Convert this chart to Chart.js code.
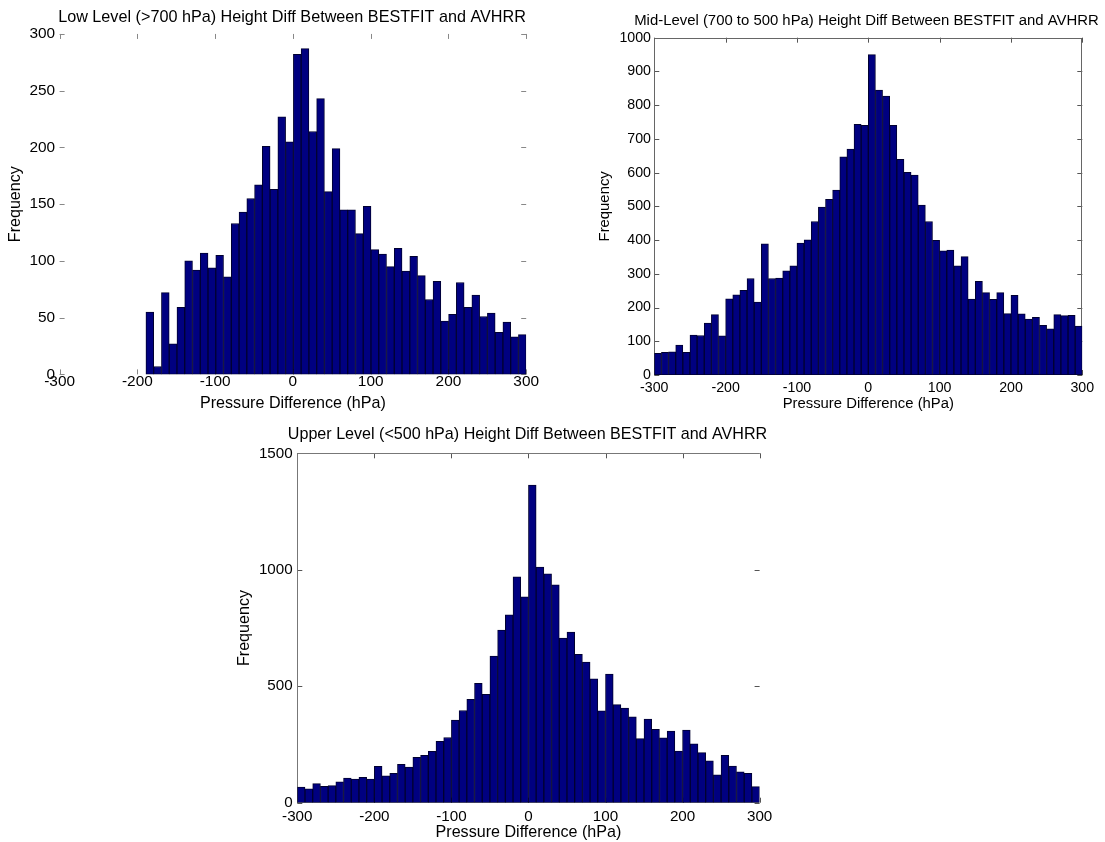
<!DOCTYPE html>
<html>
<head>
<meta charset="utf-8">
<script src="https://cdn.jsdelivr.net/npm/chart.js@4.4.1/dist/chart.umd.min.js"></script>
<style>
  html, body { margin: 0; background: #fff; overflow: hidden; }
  .panel { position: absolute; }
</style>
</head>
<body>
<div class="panel" style="left:0;top:0;width:584px;height:420px"><canvas id="lowChart"></canvas></div>
<div class="panel" style="left:590px;top:0;width:553px;height:420px"><canvas id="midChart"></canvas></div>
<div class="panel" style="left:230px;top:420px;width:595px;height:422px"><canvas id="upperChart"></canvas></div>
<script>
const xTicks = [-300, -200, -100, 0, 100, 200, 300];

// low level (>700 hPa): 49 bins between about -189 and 300 hPa
const lowRange = [-189, 300];
const lowCounts = [55, 7, 72, 27, 59, 100, 92, 107, 94, 105, 86, 133, 143, 155, 167, 201, 163, 227, 205, 282,
  287, 214, 243, 161, 199, 145, 145, 124, 148, 110, 106, 95, 111, 91, 104, 87, 66, 82, 47, 53,
  81, 59, 70, 51, 54, 37, 46, 33, 35];
const lowYTicks = [0, 50, 100, 150, 200, 250, 300];

// mid level (700 to 500 hPa): 60 bins of 10 hPa
const midRange = [-300, 300];
const midCounts = [64, 67, 69, 89, 67, 118, 117, 154, 179, 116, 226, 238, 251, 286, 216, 389, 286, 287, 309, 324,
  391, 401, 455, 498, 521, 548, 647, 670, 743, 740, 950, 845, 827, 740, 639, 601, 593, 504, 455, 399,
  368, 370, 324, 351, 225, 278, 244, 224, 244, 182, 236, 181, 166, 171, 147, 137, 179, 176, 177, 145];
const midYTicks = [0, 100, 200, 300, 400, 500, 600, 700, 800, 900, 1000];

// upper level (<500 hPa): 60 bins of 10 hPa
const upperRange = [-300, 300];
const upperCounts = [67, 60, 82, 70, 73, 90, 106, 101, 109, 101, 156, 115, 126, 165, 153, 195, 203, 221, 264, 280,
  355, 396, 444, 513, 465, 630, 741, 807, 970, 884, 1364, 1012, 983, 935, 707, 733, 637, 604, 532, 394,
  552, 421, 406, 369, 275, 359, 315, 278, 308, 222, 312, 253, 215, 180, 120, 203, 157, 133, 126, 69];
const upperYTicks = [0, 500, 1000, 1500];

const FONT = '"Liberation Sans", Arial, Helvetica, sans-serif';

// inward MATLAB-style tick marks on all four sides, plus whatever frame lines are visible
const axesBox = {
  id: 'axesBox',
  beforeDatasetsDraw(chart, args, opts) {
    const { ctx, chartArea: a, scales: { x, y } } = chart;
    const len = 5;
    ctx.save();
    ctx.lineWidth = 1;
    ctx.strokeStyle = opts.tickColor;
    ctx.beginPath();
    x.ticks.forEach(t => {
      const px = Math.round(x.getPixelForValue(t.value)) + 0.5;
      ctx.moveTo(px, a.bottom); ctx.lineTo(px, a.bottom - len);
      ctx.moveTo(px, a.top); ctx.lineTo(px, a.top + len);
    });
    y.ticks.forEach(t => {
      const py = Math.round(y.getPixelForValue(t.value)) + 0.5;
      ctx.moveTo(a.left, py); ctx.lineTo(a.left + len, py);
      ctx.moveTo(a.right, py); ctx.lineTo(a.right - len, py);
    });
    ctx.stroke();
    ctx.strokeStyle = opts.frameColor;
    ctx.beginPath();
    const l = Math.round(a.left) + 0.5, r = Math.round(a.right) - 0.5;
    const t = Math.round(a.top) + 0.5, b = Math.round(a.bottom) - 0.5;
    opts.sides.forEach(s => {
      if (s === 'top') { ctx.moveTo(l, t); ctx.lineTo(r, t); }
      if (s === 'bottom') { ctx.moveTo(l, b); ctx.lineTo(r, b); }
      if (s === 'left') { ctx.moveTo(l, t); ctx.lineTo(l, b); }
      if (s === 'right') { ctx.moveTo(r, t); ctx.lineTo(r, b); }
    });
    ctx.stroke();
    ctx.restore();
  }
};

function binCenters(range, n) {
  const w = (range[1] - range[0]) / n;
  const out = [];
  for (let i = 0; i < n; i++) out.push(range[0] + w * (i + 0.5));
  return out;
}

function makeHist(id, title, range, counts, yTicks, box) {
  const centers = binCenters(range, counts.length);
  const pts = counts.map((c, i) => ({ x: centers[i], y: c }));
  const f = box.fonts;
  new Chart(document.getElementById(id), {
    type: 'bar',
    data: {
      datasets: [{
        data: pts,
        backgroundColor: '#000080',
        borderColor: '#000030',
        borderWidth: 1,
        borderSkipped: false,
        barPercentage: 1,
        categoryPercentage: 1,
        grouped: false
      }]
    },
    options: {
      responsive: true,
      maintainAspectRatio: false,
      animation: false,
      layout: { padding: 0 },
      plugins: {
        legend: { display: false },
        tooltip: { enabled: false },
        // full-width title so that long titles are not squeezed into the plot width
        title: {
          display: true,
          text: title,
          color: '#000',
          font: { family: FONT, size: f.title, weight: 'normal' },
          padding: { top: box.titleTop, bottom: box.titleBottom }
        },
        axesBox: box.axes
      },
      scales: {
        x: {
          type: 'linear',
          min: xTicks[0],
          max: xTicks[xTicks.length - 1],
          offset: false,
          afterBuildTicks: s => { s.ticks = xTicks.map(v => ({ value: v })); },
          afterFit: s => { s.height = box.xHeight; },
          grid: { display: false, drawTicks: false },
          border: { display: false },
          ticks: { color: '#000', padding: box.xTickPad, maxRotation: 0, autoSkip: false, callback: v => String(v), font: { family: FONT, size: f.ticks } },
          title: { display: true, text: 'Pressure Difference (hPa)', color: '#000', font: { family: FONT, size: f.axis }, padding: { top: 0, bottom: box.xTitlePad } }
        },
        y: {
          min: 0,
          max: yTicks[yTicks.length - 1],
          afterBuildTicks: s => { s.ticks = yTicks.map(v => ({ value: v })); },
          afterFit: s => { s.width = box.yWidth; },
          grid: { display: false, drawTicks: false },
          border: { display: false },
          ticks: { color: '#000', padding: box.yTickPad, callback: v => String(v), font: { family: FONT, size: f.ticks } },
          title: { display: true, text: 'Frequency', color: '#000', font: { family: FONT, size: f.axis }, padding: { top: box.yTitlePad, bottom: 0 } }
        },
        // empty strip on the right, keeps the plot clear of the canvas edge
        gap: {
          position: 'right',
          afterFit: s => { s.width = box.gap; },
          grid: { display: false, drawTicks: false },
          border: { display: false },
          ticks: { display: false }
        }
      }
    },
    plugins: [axesBox]
  });
}

makeHist('lowChart', 'Low Level (>700 hPa) Height Diff Between BESTFIT and AVHRR', lowRange, lowCounts, lowYTicks, {
  fonts: { title: 16.2, ticks: 15.4, axis: 16.1 },
  yWidth: 59.6, xHeight: 45.6, gap: 57.8,
  titleTop: 7.6, titleBottom: 6.9, xTickPad: -2, yTickPad: 4.5, xTitlePad: 6.3, yTitlePad: 5.8,
  axes: { tickColor: '#888', frameColor: '#fff', sides: [] }
});
makeHist('midChart', 'Mid-Level (700 to 500 hPa) Height Diff Between BESTFIT and AVHRR', midRange, midCounts, midYTicks, {
  fonts: { title: 14.9, ticks: 14.2, axis: 14.85 },
  yWidth: 64.3, xHeight: 45, gap: 60.7,
  titleTop: 11.8, titleBottom: 8.0, xTickPad: 5, yTickPad: 3.3, xTitlePad: 7.1, yTitlePad: 6.1,
  axes: { tickColor: '#555', frameColor: '#666', sides: ['top', 'bottom', 'left', 'right'] }
});
makeHist('upperChart', 'Upper Level (<500 hPa) Height Diff Between BESTFIT and AVHRR', upperRange, upperCounts, upperYTicks, {
  fonts: { title: 16.1, ticks: 15.2, axis: 16.1 },
  yWidth: 67.3, xHeight: 39.3, gap: 65.4,
  titleTop: 4.8, titleBottom: 9.2, xTickPad: 5.4, yTickPad: 4.6, xTitlePad: 0, yTitlePad: 4.6,
  axes: { tickColor: '#555', frameColor: '#777', sides: ['top', 'left'] }
});
</script>
</body>
</html>
